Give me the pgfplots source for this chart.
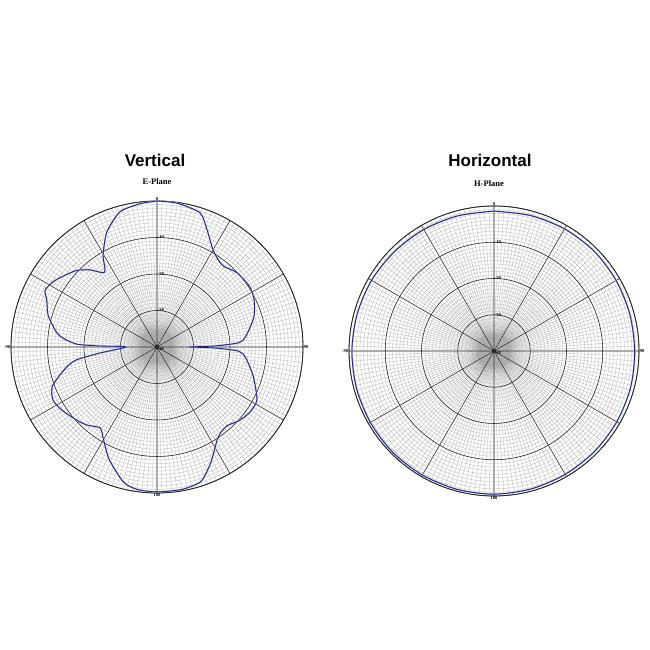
\documentclass[border=0pt]{standalone}
\usepackage{pgfplots}
\pgfplotsset{compat=1.18}
\usepgfplotslibrary{polar}
\usepackage{pgfplotstable}
\usepackage{fontspec}
\setmainfont{Liberation Serif}
\newfontfamily\arial{Liberation Sans}
\definecolor{trace}{RGB}{30,36,115}
\definecolor{halo}{RGB}{160,170,230}

% E-plane: theta (deg, clockwise from top), relative level (dB)
\pgfplotstableread{
theta db
0 0
8 -0.2
17.8 -1.4
23 -5.0
30 -9.3
36 -11.0
40 -11.3
47 -10.1
57 -9.7
64 -10.4
72 -12.0
78 -13.9
84 -15.8
87 -17.5
89 -24
90 -31
91 -24
93 -17.5
97 -15.5
107 -12.4
118 -9.0
125 -8.9
132 -9.8
138 -11.1
143 -10.8
147 -9.7
152 -7.0
156 -4.5
162 -1.2
170 -0.4
180 -0.3
188 -0.6
194 -1.9
203 -6.5
210 -10.7
215 -12.9
221 -11.5
226 -10.5
236 -8.8
243 -8.0
249 -9.2
253 -11.7
258 -15
261 -17.8
264 -24.3
270 -31.5
271 -24.4
272 -18.1
275 -14.5
278 -12.3
286 -9.0
293 -7.2
297 -5.6
303 -6.6
313 -9.4
319 -12
325 -15
329.6 -10.8
336.5 -5.6
344.7 -1.6
353 -0.5
360 0
}\eplane

% H-plane
\pgfplotstableread{
theta db
0 -1.4
15 -1.3
30 -1.1
45 -1.0
60 -1.1
75 -1.2
90 -1.2
105 -1.0
120 -0.9
135 -0.8
150 -0.7
165 -0.6
180 -0.5
195 -0.5
210 -0.5
225 -0.5
240 -0.6
255 -0.7
270 -0.8
285 -0.9
300 -1.0
315 -1.2
330 -1.3
345 -1.4
360 -1.4
}\hplane

\pgfplotsset{antgrid/.style={
  scale only axis, width=#1, height=#1,
  xmin=0, xmax=360, ymin=0, ymax=40,
  xtick={0,30,...,330}, minor xtick={0,2,...,358},
  ytick={10,20,30,40}, minor ytick={1,2,...,39},
  grid=both,
  major grid style={black!85, line width=0.55pt},
  minor grid style={black!33, line width=0.25pt},
  xticklabels={}, yticklabels={},
  major tick length=0pt, minor tick length=0pt,
  x axis line style={black!85, line width=0.8pt},
  y axis line style={draw=none},
  anchor=center, clip=false,
}}
\tikzset{lab/.style={font=\bfseries\fontsize{4.5}{5}\selectfont, inner sep=0.6pt}}

\begin{document}
\begin{tikzpicture}
\path[use as bounding box] (0,0) rectangle (650pt,650pt);
\node[font=\arial\bfseries\fontsize{17}{20}\selectfont] at (155pt,490pt) {Vertical};
\node[font=\bfseries\fontsize{8.5}{10}\selectfont] at (157pt,468pt) {E-Plane};
\node[font=\arial\bfseries\fontsize{17}{20}\selectfont] at (490pt,490pt) {Horizontal};
\node[font=\bfseries\fontsize{8.5}{10}\selectfont] at (489pt,466pt) {H-Plane};

\begin{polaraxis}[antgrid=292pt, at={(157pt,303pt)}]
\addplot[halo, line width=1.4pt, smooth, tension=0.4] table[x expr={90-\thisrow{theta}}, y expr={\thisrow{db}+40}] {\eplane};
\addplot[trace, line width=0.8pt, smooth, tension=0.4] table[x expr={90-\thisrow{theta}}, y expr={\thisrow{db}+40}] {\eplane};
\node[lab, anchor=south] at (axis cs:90,40) {0};
\node[lab, anchor=west] at (axis cs:90,30) {-10};
\node[lab, anchor=west] at (axis cs:90,20) {-20};
\node[lab, anchor=west] at (axis cs:90,10) {-30};
\node[lab, anchor=north west] at (axis cs:0,0) {-40};
\node[lab, anchor=east] at (axis cs:180,40) {-90};
\node[lab, anchor=west] at (axis cs:0,40) {90};
\node[lab, anchor=north] at (axis cs:270,40) {180};
\end{polaraxis}

\begin{polaraxis}[antgrid=290pt, at={(494pt,299pt)}]
\addplot[halo, line width=1.4pt, smooth] table[x expr={90-\thisrow{theta}}, y expr={\thisrow{db}+40}] {\hplane};
\addplot[trace, line width=0.8pt, smooth] table[x expr={90-\thisrow{theta}}, y expr={\thisrow{db}+40}] {\hplane};
\node[lab, anchor=south] at (axis cs:90,40) {0};
\node[lab, anchor=west] at (axis cs:90,30) {-10};
\node[lab, anchor=west] at (axis cs:90,20) {-20};
\node[lab, anchor=west] at (axis cs:90,10) {-30};
\node[lab, anchor=north west] at (axis cs:0,0) {-40};
\node[lab, anchor=east] at (axis cs:180,40) {-90};
\node[lab, anchor=west] at (axis cs:0,40) {90};
\node[lab, anchor=north] at (axis cs:270,40) {180};
\end{polaraxis}
\end{tikzpicture}
\end{document}
